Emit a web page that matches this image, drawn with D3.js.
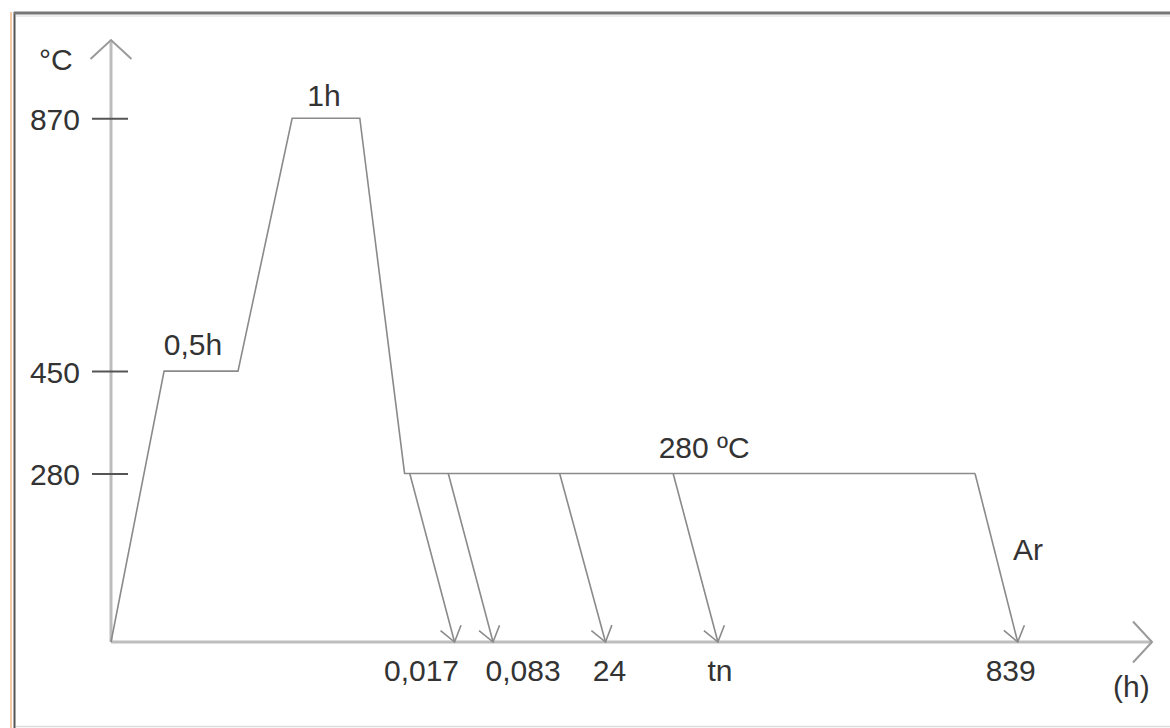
<!DOCTYPE html>
<html>
<head>
<meta charset="utf-8">
<script src="https://cdn.jsdelivr.net/npm/d3@7"></script>
<style>
  html, body { margin: 0; padding: 0; background: #fff; }
  svg { display: block; }
  text { font-family: "Liberation Sans", Arial, sans-serif; font-size: 30px; fill: #333; }
</style>
</head>
<body>
<svg id="chart" width="1170" height="728"></svg>
<script>
// Heat-treatment cycle (schematic time axis, temperature in °C)
const tempTicks = [280, 450, 870];

// Main furnace profile: schematic time position and temperature
const profileTime = [0, 5.1, 12.2, 17.4, 23.9, 28.2, 83.0];
const profileTemp = [0, 450, 450, 870, 870, 280, 280];

// Quench paths from the 280 °C hold down to room temperature
const quenchStart = [28.7, 32.4, 43.1, 54.0, 83.0];
const quenchEnd   = [33.0, 36.7, 47.5, 58.3, 87.1];
const quenchLabels = ["0,017", "0,083", "24", "tn", "839"];

// Hold annotations
const holdLabels = ["0,5h", "1h", "280 ºC"];
const holdSegments = [[1, 2], [3, 4], [5, 6]];

const svg = d3.select("#chart");
const W = 1170, H = 728;

const x = d3.scaleLinear().domain([0, 100]).range([111, 1152]);
const y = d3.scaleLinear().domain([0, 1000]).range([642, 40]);

// Frame
svg.append("line").attr("x1", 11).attr("x2", 11).attr("y1", 12).attr("y2", H)
  .attr("stroke", "#f3c9a6").attr("stroke-width", 2);
svg.append("line").attr("x1", 14.5).attr("x2", 14.5).attr("y1", 12).attr("y2", H)
  .attr("stroke", "#555").attr("stroke-width", 2);
svg.append("line").attr("x1", 14).attr("x2", W).attr("y1", 13).attr("y2", 13)
  .attr("stroke", "#777").attr("stroke-width", 3);
svg.append("line").attr("x1", 16).attr("x2", W).attr("y1", 16).attr("y2", 16)
  .attr("stroke", "#ececec").attr("stroke-width", 2);
svg.append("line").attr("x1", 16).attr("x2", W).attr("y1", 726.5).attr("y2", 726.5)
  .attr("stroke", "#dcdcdc").attr("stroke-width", 1.5);

// Arrow markers
const defs = svg.append("defs");
defs.append("marker").attr("id", "axisHead")
  .attr("markerUnits", "userSpaceOnUse").attr("orient", "auto")
  .attr("markerWidth", 40).attr("markerHeight", 50)
  .attr("viewBox", "-30 -25 40 50").attr("refX", 0).attr("refY", 0)
  .append("path").attr("d", "M-19,-20.5L0,0L-19,20.5")
  .attr("fill", "none").attr("stroke", "#9a9a9a").attr("stroke-width", 2);
defs.append("marker").attr("id", "quenchHead")
  .attr("markerUnits", "userSpaceOnUse").attr("orient", "auto")
  .attr("markerWidth", 30).attr("markerHeight", 30)
  .attr("viewBox", "-20 -15 30 30").attr("refX", 0).attr("refY", 0)
  .append("path").attr("d", "M-14.6,-10.6L0,0L-14.6,10.6")
  .attr("fill", "none").attr("stroke", "#8a8a8a").attr("stroke-width", 1.6);

// Axes lines
svg.append("line")
  .attr("x1", x(0)).attr("y1", y(0)).attr("x2", x(0)).attr("y2", y(1000))
  .attr("stroke", "#bdbdbd").attr("stroke-width", 3)
  .attr("marker-end", "url(#axisHead)");
svg.append("line")
  .attr("x1", x(0)).attr("y1", y(0)).attr("x2", x(100)).attr("y2", y(0))
  .attr("stroke", "#bdbdbd").attr("stroke-width", 3)
  .attr("marker-end", "url(#axisHead)");

// Temperature ticks
const yAxis = d3.axisLeft(y).tickValues(tempTicks).tickSize(19).tickPadding(12)
  .tickFormat(d3.format("d"));
const gy = svg.append("g").attr("transform", `translate(${x(0)},0)`).call(yAxis);
gy.select(".domain").remove();
gy.selectAll(".tick line").attr("x1", 17).attr("stroke", "#555").attr("stroke-width", 2);
gy.selectAll(".tick text").attr("font-size", null).attr("font-family", null)
  .attr("fill", "#333").attr("dy", "0.38em");
gy.attr("font-size", null).attr("font-family", null);

// Axis titles
svg.append("text").attr("x", 39).attr("y", 70).text("°C");
svg.append("text").attr("x", 1113).attr("y", 697).text("(h)");

// Furnace profile
const profile = profileTime.map((t, i) => [t, profileTemp[i]]);
const line = d3.line().x(d => x(d[0])).y(d => y(d[1]));
svg.append("path").datum(profile).attr("d", line)
  .attr("fill", "none").attr("stroke", "#8a8a8a").attr("stroke-width", 1.6)
  .attr("stroke-linejoin", "miter");

// Quench arrows
const holdTemp = profileTemp[profileTemp.length - 1];
svg.selectAll("line.quench").data(quenchStart).join("line")
  .attr("class", "quench")
  .attr("x1", d => x(d)).attr("y1", y(holdTemp))
  .attr("x2", (d, i) => x(quenchEnd[i])).attr("y2", y(0))
  .attr("stroke", "#8a8a8a").attr("stroke-width", 1.6)
  .attr("marker-end", "url(#quenchHead)");

// Quench time labels (nudged sideways where neighbours would collide)
const labelNudge = [-33, 30, 4, 2, -7];
svg.selectAll("text.qlabel").data(quenchLabels).join("text")
  .attr("class", "qlabel")
  .attr("text-anchor", "middle")
  .attr("x", (d, i) => x(quenchEnd[i]) + labelNudge[i])
  .attr("y", y(0) + 39)
  .text(d => d);

// Hold annotations above each plateau
const holdNudge = [[-8, -16], [-2, -12], [-6, -15]];
svg.selectAll("text.hold").data(holdLabels).join("text")
  .attr("class", "hold")
  .attr("text-anchor", "middle")
  .attr("x", (d, i) => {
    const [a, b] = holdSegments[i];
    if (i === 2) return x(54.0) + 37 + holdNudge[i][0];
    return (x(profileTime[a]) + x(profileTime[b])) / 2 + holdNudge[i][0];
  })
  .attr("y", (d, i) => y(profileTemp[holdSegments[i][0]]) + holdNudge[i][1])
  .text(d => d);

// Atmosphere label beside the final cooling arrow
svg.append("text").attr("x", 1013).attr("y", 560).text("Ar");
</script>
</body>
</html>
